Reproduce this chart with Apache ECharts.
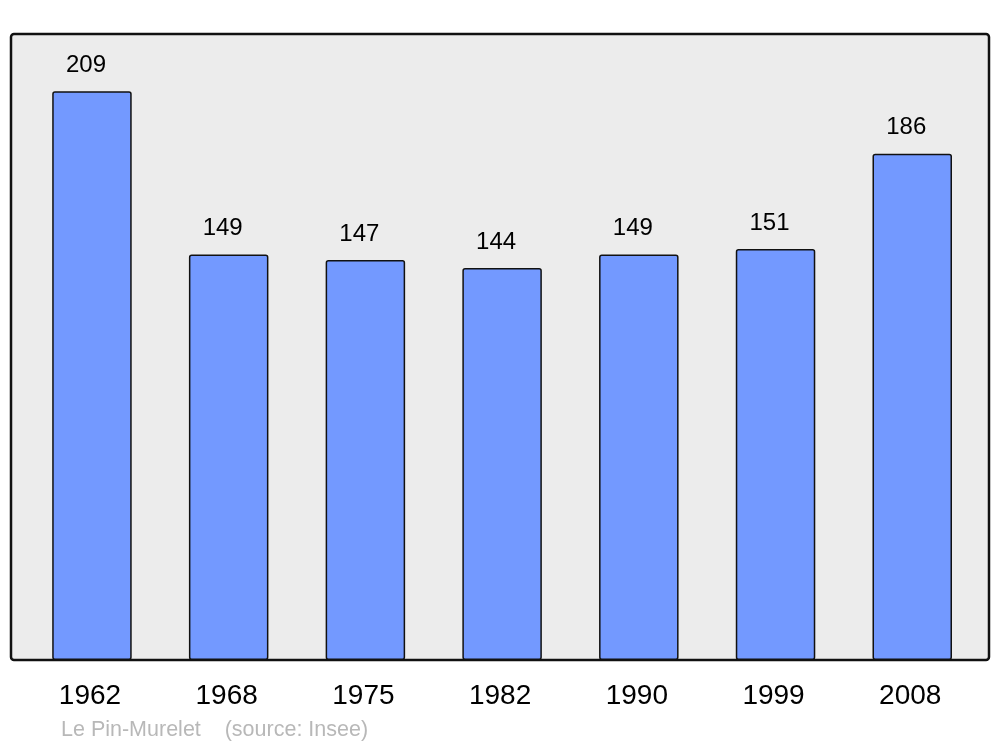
<!DOCTYPE html>
<html><head><meta charset="utf-8">
<script src="https://cdn.jsdelivr.net/npm/echarts@6/dist/echarts.min.js"></script>
<style>html,body{margin:0;padding:0;background:#fff}#c{width:1000px;height:747px}</style>
</head><body><div id="c"></div>
<script>
const years = ['1962','1968','1975','1982','1990','1999','2008'];
const population = [209,149,147,144,149,151,186];
const sourceText = 'Le Pin-Murelet    (source: Insee)';

const chart = echarts.init(document.getElementById('c'), null, {renderer:'canvas'});
chart.setOption({
  animation:false,
  textStyle:{fontFamily:'Liberation Sans, Arial, sans-serif'},
  grid:{left:23.6, right:19.4, top:34, bottom:87},
  xAxis:{type:'category', data:years, axisLine:{show:false}, axisTick:{show:false},
    axisLabel:{fontSize:28, color:'#000', margin:22, fontFamily:'Liberation Sans', padding:[0,4,0,0]}},
  yAxis:{type:'value', min:0, max:230, show:false, splitLine:{show:false}},
  graphic:[
    {type:'rect', z:-10, shape:{x:11,y:34,width:978,height:626,r:3},
     style:{fill:'#ececec', stroke:'#111', lineWidth:2.5}},
    {type:'text', left:61, top:719, style:{text:sourceText, fill:'#b8b8b8', fontSize:21.5, fontFamily:'Liberation Sans'}}
  ],
  series:[{type:'bar', data:population, barWidth:79.5,
    itemStyle:{color:'#7399ff', borderColor:'#111', borderWidth:1.5, borderRadius:2},
    label:{show:true, position:'top', distance:14, fontSize:24, color:'#000', fontFamily:'Liberation Sans', offset:[-6,0]}
  }]
});
</script></body></html>
